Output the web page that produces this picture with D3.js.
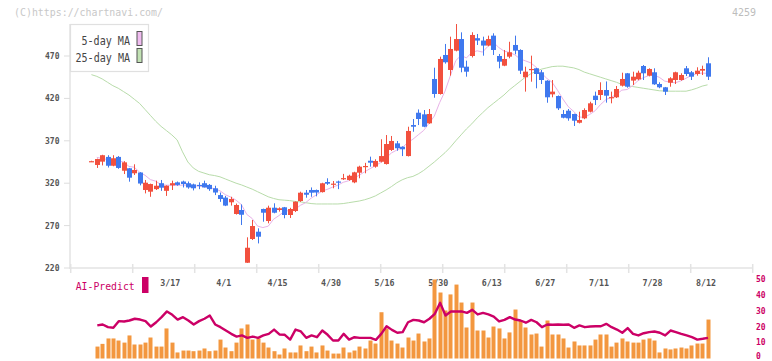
<!DOCTYPE html>
<html><head><meta charset="utf-8">
<script src="https://cdn.jsdelivr.net/npm/d3@7"></script>
<style>body{margin:0;background:#fff}svg{display:block}text{font-family:"DejaVu Sans Mono",monospace}</style>
</head><body><svg id="c" width="772" height="361"></svg>
<script>
// ---- data ----
const opens=[345.5,341.5,345.4,351,340.6,351,334.7,337.6,331.7,332.6,312,310,313,320,311,317.5,321,322,320,318.6,318,320,318,314,306,303,297.5,283.7,288.4,226.2,254.2,262.8,289.6,275.4,291.1,288.4,291.6,282.5,287.2,299,308.8,312,312,309.5,321.4,319,322,325.5,323.8,321,332.4,340,346.5,339.5,345.3,342.6,359.2,367,363,352,388.6,403.1,401.2,390.6,442.9,425.2,471.2,453.5,476.3,490,457.4,470,491,488.2,482.3,494,470,458.6,469.2,483,477.1,444.9,454.2,455.5,450.8,440.9,424.8,422.8,401.6,405.5,401.6,391.3,396.5,404.3,423.2,424,429.9,421,421.3,435,449.6,441,442.5,458.2,446.8,450.8,437,433.1,438.5,441.7,441.7,455.5,450.8,448.8,452.7,461.4];
const highs=[346.5,349,353.5,353,353,352,346,338,342.3,333,323.8,319.5,323,323.8,317.5,323,322,323,322,319.5,321,323,319,317,309,305,304,296,295,256.2,276.6,266.8,290,293.5,296.3,291.5,292,291,298.5,310,312,315,312.5,320.5,325.8,322.6,323,331,330,333.5,340.6,344,351.3,348.2,371.8,376.8,375.7,369.8,363.5,386.6,395.7,407,406.3,407.5,456.2,469.2,484.2,492.8,507.7,497.9,464.5,498,496,492.8,494,496.8,472.4,477.1,486.8,494,477.9,457.4,470.4,456,453.5,441.5,441.7,423.5,406.3,407.5,402,404.3,408.3,416.1,428,439,440,428,434.6,450.3,450,451.5,452.7,459.4,455.5,455.5,439,433.5,445,451.5,449.6,458.2,452.3,456.7,458.6,468.5];
const lows=[345.5,338,341,338.5,340,337,330.8,321.8,329.7,317.5,308,304,312,311,305,312,317,315,313.5,311.5,313,315,311,306,298,293,293.6,283,270.7,226,253,249,274.6,272.7,284.5,286.5,278.6,279,286,298,302.9,304,304.5,309,318,314,313,323.8,323,320,325.8,331.7,339.5,338.3,344.5,342,358,358.3,352,351.5,380.7,388.6,386,390,420.8,424.5,461,446.8,475.5,450.8,445.6,468.3,483,470.4,481.5,471.2,455.5,458,467.3,472,448.8,428,439.7,431.9,437,414.9,421.3,406.3,396.5,393.7,387.5,390.5,395.5,403.5,412.2,418.1,415,414.2,420.5,434,432.6,435.8,441.5,441.7,446,436,432,424,433.8,437,441,446.4,441.7,446.8,447.6,441.7];
const closes=[346,348.5,353,340.6,349.4,338,344.6,326.5,335.6,319.6,320.6,319,317,314.7,317,320,318,319,315,314,316.7,315,313,309,301.4,293.6,301.4,294.3,282.8,243.9,269.5,256.9,285.2,291.1,285.2,290.4,282.5,289.6,298.2,308.8,306.4,308.8,309,319.9,319.4,319.5,320.6,326,328.8,332.8,339.5,340.3,344.2,346.2,352,366.2,369.8,361.2,360,381.6,386.6,395.7,386.6,401.6,425.2,466.5,462.6,478.3,490,456.2,451.5,494.8,488.2,482.3,490,477.1,463.3,466.5,474.4,476.3,452.7,451.5,454.7,448.8,441.7,421.3,428,408.3,397.2,396.5,393.7,394.5,406.3,414.2,418.1,429.9,423.2,421.5,431.1,442.9,433.8,445.6,450.3,449.6,454.7,436.6,433.1,427.9,443.7,450.8,447.6,448.8,445.6,452.7,454.7,445.6];
const ma25=[448,446,443,439,435,432,428,424,419,414,407,400,393,387,382,377,371,357,345,338,334,332,330,329,327.5,325,322.5,320,318,315.5,313,310,307,304,302,300.5,300,299.5,298.5,298,297,296,295.5,295.5,295.5,295.5,295.5,296,297,298,299,300.5,302.5,305,308.5,312,316,320.5,324,326.5,328,331,335,340,345,350.5,356,362.5,370,377,384,390,397,403,409,414,419,424,430,435,440,445,449,452,454.5,456,457.5,458,458,457,456,454,451,449,447,445,443,441,439,436.5,435,434,433,432,431,430,429,428.7,428.5,428.5,428.5,428.5,430,432,434.5,436];
const ma5Lead=[null,350.5,349,348];
const volume=[null,7.5,9.2,12.6,12.6,11.3,10,14.5,8.8,8.8,10,13.2,7.5,7.5,18.9,10,3.8,5,5,4.6,5,6.3,4.6,5,11.9,6.9,4.6,10,18.9,21.4,11.9,12.6,10,6.9,4.6,2.5,6.3,3.8,3.8,8.2,4.6,7.5,3.8,8.2,5,3.1,3.1,6.9,3.8,5,7.5,6.3,11.3,9.4,29.1,18.9,11.3,9.4,6.9,13.2,11.3,15.7,10.7,12.6,49.7,41.5,30.2,40.3,46.5,35.2,19.5,35.2,17.6,17.6,13.2,20.1,18.9,12.6,16.4,30.8,23.9,19.5,15.1,15.7,7.5,23.9,15.1,15.1,12.6,6.9,10.7,8.2,8.2,8.2,11.9,15.1,15.1,7.5,10,12.6,10.7,10,10,11.9,12.6,11.3,3.8,6.3,5.7,6.3,6.9,6.3,8.2,9.4,9.4,24.5];
const aiPredict=[null,20.8,21.4,19.7,19.3,23.5,23.3,23.9,25,24.5,23.5,20.1,22.8,26,29.6,27.5,24.5,26,23.9,21.4,23.5,25,27,21.4,19.7,17.6,15.5,13.8,14.5,13,13.8,13,14.5,15.5,18.2,15.1,14.9,11.9,18.2,17,13,14.5,13.4,17.6,14.9,11.3,11.3,15.5,11.9,13.4,13,13,13,11.7,15.5,20.3,18,16.2,16.6,22.8,24.3,23.9,22.8,25,28.1,35,27,29.6,29.6,29.6,28.7,30.6,27.7,28.7,27.7,26.4,23.3,24.3,26,24.5,23.9,22.5,24.3,22.8,19.7,21.4,21.2,21.4,21.2,21.4,19.3,20.8,19.7,20.1,20.3,20.3,21.8,19.7,18.2,16.2,19.1,15.5,14.5,15.9,16.6,17,16.2,14.5,17.6,16.6,15.5,14.5,13.4,11.9,12.4,13];
const xLabels=["3/17","4/1","4/15","4/30","5/16","5/30","6/13","6/27","7/11","7/28","8/12"];
const xLabelIdx=[15,25,35,45,55,65,75,85,95,105,115];
const yTicks=[220,270,320,370,420,470];
const volTicks=[0,10,20,30,40,50];

// 5-day moving average of the closes (first values)
const ma5=closes.map((c,i)=> i<4 ? ma5Lead[i] : d3.mean(closes.slice(i-4,i+1)));

// ---- drawing ----
const svg=d3.select("#c");
const RED="#f2503e", BLUE="#3f78ee";
const x=d3.scaleLinear().domain([-4,123.3]).range([70,752]);
const y=d3.scaleLinear().domain([220,470]).range([268,56]);
const vy=d3.scaleLinear().domain([0,50]).range([358.5,279]);
const idx=d3.range(closes.length);

// watermark & code
svg.append("text").attr("x",14).attr("y",15.5).attr("fill","#c8c8c8").attr("font-size",10.5)
  .attr("textLength",149).attr("lengthAdjust","spacingAndGlyphs").text("(C)https://chartnavi.com/");
svg.append("text").attr("x",756).attr("y",15.5).attr("text-anchor","end").attr("fill","#bdbdbd").attr("font-size",10)
  .text("4259");

// axes
svg.append("line").attr("x1",70).attr("x2",70).attr("y1",24).attr("y2",269).attr("stroke","#e3e3e3").attr("stroke-width",1.5);
svg.append("line").attr("x1",70).attr("x2",753).attr("y1",268).attr("y2",268).attr("stroke","#e3e3e3").attr("stroke-width",1.5);
const gridX=d3.range(12).map(k=>70.7+62*k);
svg.selectAll(".xt").data(gridX).join("line").attr("x1",d=>d).attr("x2",d=>d).attr("y1",264).attr("y2",273)
  .attr("stroke","#e3e3e3").attr("stroke-width",1.5);
svg.selectAll(".yt").data(yTicks).join("line").attr("x1",64).attr("x2",70).attr("y1",d=>y(d)).attr("y2",d=>y(d))
  .attr("stroke","#dddddd").attr("stroke-width",1);
svg.selectAll(".yl").data(yTicks).join("text").attr("x",59.5).attr("y",d=>y(d)+3).attr("text-anchor","end")
  .attr("font-size",8).attr("fill","#555").attr("font-weight","bold").text(d=>d);
svg.selectAll(".xl").data(xLabels).join("text").attr("x",(d,k)=>x(xLabelIdx[k])-1.5).attr("y",285.5).attr("text-anchor","middle")
  .attr("font-size",8.3).attr("fill","#555").attr("font-weight","bold").text(d=>d);

// moving averages
const lineGen=d3.line().defined(d=>d[1]!=null).x(d=>x(d[0])).y(d=>y(d[1]));
svg.append("path").attr("d",lineGen(idx.map(i=>[i,ma25[i]]))).attr("fill","none").attr("stroke","#b8dcaa").attr("stroke-width",1);
svg.append("path").attr("d",lineGen(idx.map(i=>[i,ma5[i]]))).attr("fill","none").attr("stroke","#e8b2e8").attr("stroke-width",1);

// candles
const cg=svg.append("g");
idx.forEach(i=>{
  const cx=Math.round(x(i));
  const up=closes[i]>=opens[i];
  const col=up?RED:BLUE;
  cg.append("rect").attr("x",cx).attr("width",1).attr("y",y(highs[i])).attr("height",Math.max(1,y(lows[i])-y(highs[i]))).attr("fill",col);
  const top=y(Math.max(opens[i],closes[i])), bot=y(Math.min(opens[i],closes[i]));
  cg.append("rect").attr("x",cx-2).attr("width",5).attr("y",top).attr("height",Math.max(1.2,bot-top)).attr("fill",col);
});

// legend
const lg=svg.append("g");
lg.append("rect").attr("x",70.5).attr("y",24.5).attr("width",78).attr("height",47).attr("fill","#fff").attr("stroke","#e0e0e0").attr("stroke-width",1.2);
lg.append("text").attr("x",81.5).attr("y",45).attr("font-size",12.5).attr("fill","#444").attr("textLength",48.5).attr("lengthAdjust","spacingAndGlyphs").text("5-day MA");
lg.append("text").attr("x",75.5).attr("y",61.5).attr("font-size",12.5).attr("fill","#444").attr("textLength",54.5).attr("lengthAdjust","spacingAndGlyphs").text("25-day MA");
lg.append("rect").attr("x",137).attr("y",31.5).attr("width",5).attr("height",14).attr("fill","#f0bcf0").attr("stroke","#555").attr("stroke-width",1);
lg.append("rect").attr("x",137).attr("y",48.5).attr("width",5).attr("height",14).attr("fill","#c2e2b4").attr("stroke","#555").attr("stroke-width",1);

// AI-Predict panel
svg.append("text").attr("x",75.7).attr("y",290).attr("font-size",10.5).attr("fill","#cc0066")
  .attr("textLength",59).attr("lengthAdjust","spacingAndGlyphs").text("AI-Predict");
svg.append("rect").attr("x",142).attr("y",277).attr("width",6.5).attr("height",16).attr("fill","#cc0066");
svg.selectAll(".vb").data(idx.filter(i=>volume[i]!=null)).join("rect")
  .attr("x",i=>Math.round(x(i))-1.5).attr("width",4).attr("y",i=>vy(volume[i])).attr("height",i=>vy(0)-vy(volume[i]))
  .attr("fill","#f3973f");
const aiLine=d3.line().defined(d=>d[1]!=null).x(d=>x(d[0])+0.5).y(d=>vy(d[1]));
svg.append("path").attr("d",aiLine(idx.map(i=>[i,aiPredict[i]]))).attr("fill","none").attr("stroke","#cc0066").attr("stroke-width",2.4).attr("stroke-linejoin","round");
svg.selectAll(".vl").data(volTicks).join("text").attr("x",756).attr("y",d=>Math.min(vy(d)+2.8,358.5)).attr("font-size",8)
  .attr("fill","#cc0066").attr("font-weight","bold").text(d=>d);
</script></body></html>
